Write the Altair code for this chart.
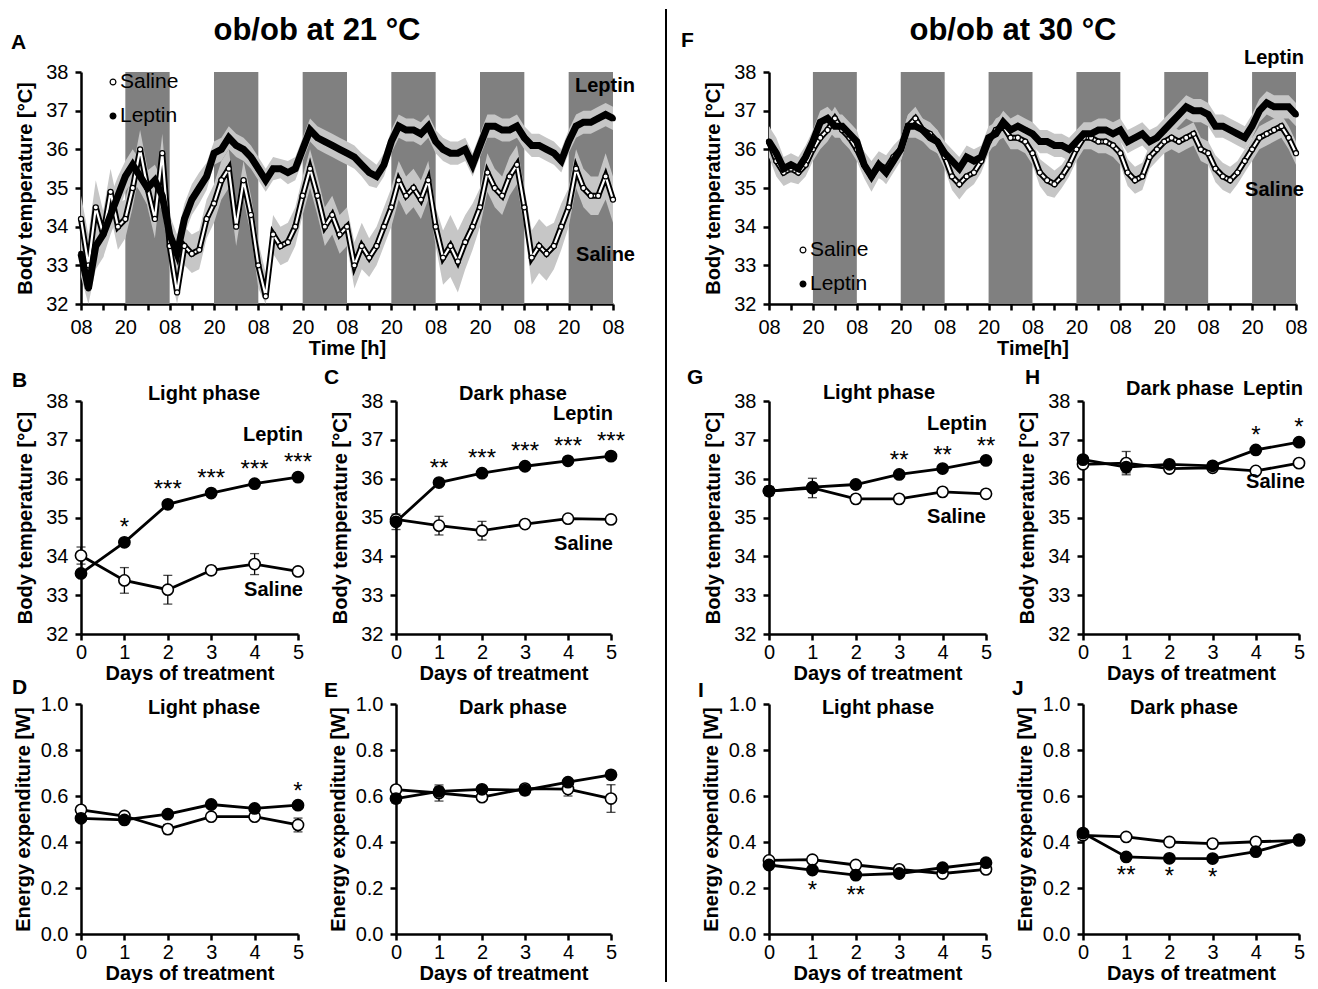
import altair as alt
import pandas as pd

FONT = "Liberation Sans"

# ---------------- time axis (panels A and F) ----------------
HOURS = list(range(0, 145, 2))
NIGHT_START = [12, 36, 60, 84, 108, 132]
NIGHT_END = [24, 48, 72, 96, 120, 144]
TIME_TICKS = list(range(0, 145, 6))

# Panel A (ob/ob at 21 C) - mean body temperature every 2 h
A_LEP = [33.3, 32.4, 33.5, 33.8, 34.3, 34.8, 35.3, 35.6, 35.3, 35.0, 35.2, 34.8,
         33.8, 33.3, 34.2, 34.7, 35.0, 35.3, 35.9, 36.0, 36.3, 36.1, 36.0, 35.8,
         35.5, 35.2, 35.5, 35.5, 35.4, 35.5, 36.0, 36.5, 36.3, 36.2, 36.1, 36.0,
         35.9, 35.8, 35.6, 35.4, 35.3, 35.6, 36.2, 36.6, 36.5, 36.5, 36.4, 36.6,
         36.2, 36.0, 35.9, 35.9, 36.0, 35.6, 36.1, 36.6, 36.6, 36.5, 36.5, 36.6,
         36.3, 36.1, 36.1, 36.0, 35.9, 35.7, 36.2, 36.6, 36.7, 36.7, 36.8, 36.9,
         36.8]
A_LEP_SEM = [0.6, 0.7, 0.6, 0.6, 0.5, 0.5, 0.4, 0.4, 0.4, 0.45, 0.4, 0.4,
             0.5, 0.5, 0.4, 0.4, 0.4, 0.35, 0.3, 0.3, 0.3, 0.3, 0.3, 0.3,
             0.3, 0.3, 0.3, 0.25, 0.3, 0.3, 0.3, 0.3, 0.3, 0.3, 0.3, 0.3,
             0.3, 0.3, 0.3, 0.35, 0.3, 0.3, 0.3, 0.3, 0.3, 0.3, 0.3, 0.3,
             0.3, 0.3, 0.3, 0.3, 0.3, 0.3, 0.3, 0.3, 0.3, 0.3, 0.3, 0.3,
             0.3, 0.3, 0.3, 0.3, 0.3, 0.3, 0.3, 0.3, 0.3, 0.3, 0.3, 0.3,
             0.3]
A_SAL = [34.2, 33.0, 34.5, 33.8, 34.9, 34.0, 34.2, 35.0, 36.0, 35.0, 34.2, 35.9,
         33.5, 32.3, 33.5, 33.3, 33.4, 34.2, 34.6, 35.2, 35.5, 34.0, 35.2, 34.3,
         33.0, 32.2, 33.8, 33.5, 33.6, 34.0, 34.8, 35.5, 34.8, 34.0, 34.3, 33.8,
         34.0, 33.0, 33.5, 33.2, 33.5, 34.0, 34.5, 35.2, 34.8, 35.0, 34.7, 35.2,
         34.0, 33.2, 33.5, 33.1, 33.6, 34.0, 34.5, 35.4, 35.0, 34.8, 35.3, 35.6,
         34.5, 33.2, 33.5, 33.3, 33.5, 34.0, 34.5, 35.5, 35.0, 34.8, 34.8, 35.3,
         34.7]
A_SAL_SEM = [0.6, 0.8, 0.7, 0.6, 0.6, 0.6, 0.5, 0.5, 0.5, 0.5, 0.5, 0.5,
             0.6, 0.6, 0.5, 0.5, 0.5, 0.5, 0.5, 0.5, 0.5, 0.5, 0.5, 0.5,
             0.6, 0.6, 0.5, 0.5, 0.5, 0.5, 0.5, 0.5, 0.5, 0.5, 0.5, 0.5,
             0.5, 0.6, 0.6, 0.5, 0.5, 0.5, 0.5, 0.5, 0.5, 0.5, 0.5, 0.5,
             0.5, 0.7, 0.8, 0.8, 0.7, 0.6, 0.5, 0.5, 0.5, 0.5, 0.5, 0.5,
             0.5, 0.7, 0.7, 0.7, 0.6, 0.6, 0.5, 0.5, 0.5, 0.5, 0.5, 0.6,
             0.6]

# Panel F (ob/ob at 30 C)
F_LEP = [36.2, 35.9, 35.5, 35.6, 35.5, 35.8, 36.2, 36.7, 36.8, 36.6, 36.6, 36.4,
         36.2, 35.6, 35.3, 35.6, 35.4, 35.7, 36.0, 36.6, 36.6, 36.5, 36.3, 36.2,
         35.9, 35.7, 35.5, 35.8, 35.7, 35.8, 36.3, 36.4, 36.7, 36.5, 36.6, 36.5,
         36.4, 36.2, 36.2, 36.1, 36.1, 36.0, 36.2, 36.4, 36.4, 36.5, 36.5, 36.4,
         36.5, 36.2, 36.3, 36.4, 36.2, 36.3, 36.5, 36.7, 36.9, 37.1, 37.0, 37.0,
         36.9, 36.6, 36.6, 36.5, 36.4, 36.3, 36.6, 37.0, 37.2, 37.1, 37.1, 37.1,
         36.9]
F_LEP_SEM = [0.4, 0.4, 0.3, 0.3, 0.3, 0.3, 0.3, 0.3, 0.3, 0.3, 0.3, 0.3,
             0.3, 0.3, 0.35, 0.3, 0.3, 0.3, 0.3, 0.3, 0.3, 0.3, 0.3, 0.3,
             0.3, 0.3, 0.3, 0.3, 0.3, 0.3, 0.3, 0.3, 0.3, 0.3, 0.3, 0.3,
             0.3, 0.3, 0.3, 0.3, 0.3, 0.3, 0.3, 0.3, 0.3, 0.3, 0.3, 0.3,
             0.3, 0.3, 0.3, 0.3, 0.3, 0.3, 0.3, 0.3, 0.3, 0.3, 0.3, 0.3,
             0.3, 0.3, 0.3, 0.3, 0.3, 0.3, 0.3, 0.3, 0.3, 0.3, 0.3, 0.3,
             0.3]
F_SAL = [36.2, 35.7, 35.4, 35.5, 35.4, 35.6, 36.0, 36.3, 36.5, 36.8, 36.5, 36.3,
         36.0, 35.6, 35.3, 35.6, 35.5, 35.8, 36.0, 36.6, 36.8, 36.5, 36.4, 36.2,
         35.8, 35.3, 35.1, 35.3, 35.4, 35.7, 36.2, 36.5, 36.6, 36.3, 36.3, 36.2,
         35.9, 35.4, 35.2, 35.1, 35.3, 35.6, 36.0, 36.3, 36.3, 36.2, 36.2, 36.1,
         35.9, 35.4, 35.2, 35.3, 35.8, 36.0, 36.2, 36.3, 36.2, 36.3, 36.4, 36.0,
         35.9, 35.5, 35.3, 35.2, 35.4, 35.7, 36.0, 36.3, 36.4, 36.5, 36.6, 36.3,
         35.9]
F_SAL_SEM = [0.4, 0.4, 0.35, 0.35, 0.3, 0.3, 0.3, 0.3, 0.3, 0.3, 0.3, 0.3,
             0.3, 0.35, 0.4, 0.35, 0.35, 0.3, 0.3, 0.3, 0.3, 0.3, 0.3, 0.3,
             0.3, 0.35, 0.4, 0.35, 0.3, 0.3, 0.3, 0.3, 0.3, 0.3, 0.3, 0.3,
             0.3, 0.35, 0.4, 0.35, 0.3, 0.3, 0.3, 0.3, 0.3, 0.3, 0.3, 0.3,
             0.3, 0.35, 0.35, 0.35, 0.3, 0.3, 0.3, 0.3, 0.3, 0.3, 0.3, 0.3,
             0.3, 0.35, 0.35, 0.35, 0.3, 0.3, 0.3, 0.3, 0.3, 0.3, 0.3, 0.3,
             0.3]

# ---------------- daily means (panels B-E, G-J) ----------------
DAYS = [0, 1, 2, 3, 4, 5]

B_LEP = [33.56, 34.36, 35.34, 35.63, 35.87, 36.04]
B_LEP_SEM = [0.08, 0.1, 0.06, 0.06, 0.05, 0.05]
B_SAL = [34.02, 33.38, 33.14, 33.64, 33.80, 33.61]
B_SAL_SEM = [0.22, 0.33, 0.37, 0.10, 0.27, 0.05]
B_STARS = ["", "*", "***", "***", "***", "***"]

C_LEP = [34.89, 35.90, 36.14, 36.32, 36.46, 36.58]
C_LEP_SEM = [0.2, 0.05, 0.05, 0.05, 0.05, 0.05]
C_SAL = [34.95, 34.79, 34.66, 34.83, 34.97, 34.95]
C_SAL_SEM = [0.1, 0.24, 0.24, 0.06, 0.05, 0.05]
C_STARS = ["", "**", "***", "***", "***", "***"]

D_LEP = [0.503, 0.496, 0.521, 0.563, 0.546, 0.560]
D_LEP_SEM = [0.01, 0.01, 0.01, 0.01, 0.01, 0.01]
D_SAL = [0.540, 0.513, 0.456, 0.510, 0.510, 0.474]
D_SAL_SEM = [0.01, 0.01, 0.02, 0.01, 0.015, 0.03]
D_STARS = ["", "", "", "", "", "*"]

E_LEP = [0.589, 0.620, 0.629, 0.625, 0.660, 0.692]
E_LEP_SEM = [0.02, 0.02, 0.01, 0.02, 0.01, 0.01]
E_SAL = [0.628, 0.613, 0.595, 0.632, 0.630, 0.589]
E_SAL_SEM = [0.01, 0.035, 0.01, 0.01, 0.03, 0.06]
E_STARS = ["", "", "", "", "", ""]

G_LEP = [35.68, 35.78, 35.85, 36.11, 36.26, 36.47]
G_LEP_SEM = [0.1, 0.1, 0.05, 0.05, 0.05, 0.05]
G_SAL = [35.68, 35.76, 35.48, 35.48, 35.66, 35.61]
G_SAL_SEM = [0.12, 0.25, 0.1, 0.05, 0.05, 0.05]
G_STARS = ["", "", "", "**", "**", "**"]

H_LEP = [36.49, 36.30, 36.37, 36.33, 36.74, 36.94]
H_LEP_SEM = [0.05, 0.15, 0.05, 0.1, 0.05, 0.05]
H_SAL = [36.37, 36.40, 36.26, 36.28, 36.20, 36.40]
H_SAL_SEM = [0.05, 0.3, 0.05, 0.05, 0.05, 0.05]
H_STARS = ["", "", "", "", "*", "*"]

I_LEP = [0.300, 0.278, 0.256, 0.263, 0.288, 0.310]
I_LEP_SEM = [0.01, 0.01, 0.01, 0.01, 0.01, 0.01]
I_SAL = [0.320, 0.323, 0.300, 0.281, 0.263, 0.281]
I_SAL_SEM = [0.01, 0.01, 0.01, 0.01, 0.01, 0.01]
I_STARS = ["", "*", "**", "", "", ""]

J_LEP = [0.439, 0.335, 0.329, 0.328, 0.358, 0.410]
J_LEP_SEM = [0.01, 0.01, 0.01, 0.01, 0.01, 0.01]
J_SAL = [0.429, 0.422, 0.400, 0.393, 0.401, 0.407]
J_SAL_SEM = [0.01, 0.01, 0.01, 0.01, 0.01, 0.01]
J_STARS = ["", "**", "*", "*", "", ""]

BT_TICKS = [32, 33, 34, 35, 36, 37, 38]
EE_TICKS = [0.0, 0.2, 0.4, 0.6, 0.8, 1.0]

ONE = pd.DataFrame({"z": [0]})


def annot(txt, x, y, size=20, bold=True, align="left"):
    return alt.Chart(ONE).mark_text(
        text=txt, align=align, baseline="middle", fontSize=size,
        fontWeight="bold" if bold else "normal", font=FONT, color="black"
    ).encode(x=alt.value(x), y=alt.value(y))


def legend_dot(x, y, filled):
    return alt.Chart(ONE).mark_circle(
        size=34, fill="black" if filled else "white", stroke="black",
        strokeWidth=1.2, opacity=1
    ).encode(x=alt.value(x), y=alt.value(y))


def long_df(xs, lep, lep_sem, sal, sal_sem, xname):
    df = pd.DataFrame({
        xname: list(xs) + list(xs),
        "v": list(sal) + list(lep),
        "sem": list(sal_sem) + list(lep_sem),
        "grp": ["Saline"] * len(sal) + ["Leptin"] * len(lep),
    })
    df["lo"] = df["v"] - df["sem"]
    df["hi"] = df["v"] + df["sem"]
    return df


def ts_panel(lep, lep_sem, sal, sal_sem, xtitle, extras, cell_w, plot_w, h):
    def X(f):
        return alt.X(f, type="quantitative",
                     scale=alt.Scale(domain=[0, 144], nice=False, zero=False, range=[0, plot_w]),
                     axis=alt.Axis(values=TIME_TICKS, title=xtitle,
                                   labelExpr="datum.value % 24 == 0 ? '08' : (datum.value % 12 == 0 ? '20' : '')",
                                   labelPadding=7, titlePadding=1))

    def Y(f):
        return alt.Y(f, type="quantitative",
                     scale=alt.Scale(domain=[32, 38], nice=False, zero=False, clamp=True),
                     axis=alt.Axis(values=BT_TICKS, format="d",
                                   title="Body temperature [°C]",
                                   labelPadding=7, titlePadding=10))

    df = long_df(HOURS, lep, lep_sem, sal, sal_sem, "t")
    sal_df = df[df["grp"] == "Saline"]
    lep_df = df[df["grp"] == "Leptin"]
    night = alt.Chart(pd.DataFrame({"s": NIGHT_START, "e": NIGHT_END})).mark_rect(
        color="#808080").encode(x=X("s"), x2="e", y=alt.value(0), y2=alt.value(h))
    band = alt.Chart(df).mark_area(color="#c6c6c6").encode(
        x=X("t"), y=Y("lo"), y2="hi", detail="grp:N")
    sal_out = alt.Chart(sal_df).mark_line(color="black", strokeWidth=6).encode(x=X("t"), y=Y("v"))
    sal_in = alt.Chart(sal_df).mark_line(color="white", strokeWidth=2.2).encode(x=X("t"), y=Y("v"))
    sal_pts = alt.Chart(sal_df).mark_circle(size=26, fill="white", stroke="black",
                                            strokeWidth=1.2, opacity=1).encode(x=X("t"), y=Y("v"))
    lep_line = alt.Chart(lep_df).mark_line(color="black", strokeWidth=7).encode(x=X("t"), y=Y("v"))
    lep_pts = alt.Chart(lep_df).mark_circle(size=34, color="black", opacity=1).encode(x=X("t"), y=Y("v"))
    layers = [night, band, sal_out, sal_in, sal_pts, lep_line, lep_pts] + extras
    return alt.layer(*layers).properties(width=cell_w, height=h)


def small_panel(lep, lep_sem, sal, sal_sem, stars, star_dy, kind, extras, w, h):
    if kind == "bt":
        dom, vals, fmt, ytitle, tpad = [32, 38], BT_TICKS, "d", "Body temperature [°C]", 10
    else:
        dom, vals, fmt, ytitle, tpad = [0, 1], EE_TICKS, ".1f", "Energy expenditure [W]", 7

    def X(f):
        return alt.X(f, type="quantitative",
                     scale=alt.Scale(domain=[0, 5], nice=False, zero=False),
                     axis=alt.Axis(values=DAYS, format="d", title="Days of treatment",
                                   labelPadding=2, titlePadding=1))

    def Y(f):
        return alt.Y(f, type="quantitative",
                     scale=alt.Scale(domain=dom, nice=False, zero=False),
                     axis=alt.Axis(values=vals, format=fmt, title=ytitle,
                                   labelPadding=7, titlePadding=tpad))

    df = long_df(DAYS, lep, lep_sem, sal, sal_sem, "day")
    sal_df = df[df["grp"] == "Saline"]
    lep_df = df[df["grp"] == "Leptin"]
    layers = []
    for d in (sal_df, lep_df):
        b = alt.Chart(d)
        layers.append(b.mark_rule(color="black", strokeWidth=1.3).encode(x=X("day"), y=Y("lo"), y2="hi"))
        layers.append(b.mark_tick(color="black", thickness=1.3, size=9, orient="horizontal").encode(x=X("day"), y=Y("lo")))
        layers.append(b.mark_tick(color="black", thickness=1.3, size=9, orient="horizontal").encode(x=X("day"), y=Y("hi")))
    for d in (sal_df, lep_df):
        layers.append(alt.Chart(d).mark_line(color="black", strokeWidth=2.8).encode(x=X("day"), y=Y("v")))
    layers.append(alt.Chart(sal_df).mark_circle(size=125, fill="white", stroke="black",
                                                strokeWidth=1.6, opacity=1).encode(x=X("day"), y=Y("v")))
    layers.append(alt.Chart(lep_df).mark_circle(size=125, fill="black", stroke="black",
                                                strokeWidth=1.6, opacity=1).encode(x=X("day"), y=Y("v")))
    sdf = pd.DataFrame({"day": DAYS, "v": lep, "s": stars})
    sdf = sdf[sdf["s"] != ""]
    if len(sdf):
        layers.append(alt.Chart(sdf).mark_text(fontSize=24, dy=star_dy, baseline="middle",
                                               font=FONT, color="black").encode(
            x=X("day"), y=Y("v"), text="s:N"))
    layers += extras
    return alt.layer(*layers).properties(width=w, height=h)


def spacer(w, h):
    return alt.Chart(ONE).mark_point(opacity=0).encode(
        x=alt.value(0), y=alt.value(0)).properties(width=w, height=h)


# ---------------- panels ----------------
anchor = alt.Chart(ONE).mark_rule(opacity=0).encode(
    x=alt.value(-73), y=alt.value(-63), x2=alt.value(-72), y2=alt.value(-62))

A = ts_panel(A_LEP, A_LEP_SEM, A_SAL, A_SAL_SEM, "Time [h]", [
    anchor,
    annot("ob/ob at 21 °C", 236, -41, size=31, align="center"),
    annot("A", -70, -29, size=21),
    legend_dot(32, 10, False), annot("Saline", 39, 10, size=21, bold=False),
    legend_dot(32, 44, True), annot("Leptin", 39, 44, size=21, bold=False),
    annot("Leptin", 554, 14, align="right"),
    annot("Saline", 554, 183, align="right"),
], 217, 532, 232)

F = ts_panel(F_LEP, F_LEP_SEM, F_SAL, F_SAL_SEM, "Time[h]", [
    annot("ob/ob at 30 °C", 244, -41, size=31, align="center"),
    annot("F", -88, -31, size=21),
    legend_dot(34, 178, False), annot("Saline", 41, 178, size=21, bold=False),
    legend_dot(34, 212, True), annot("Leptin", 41, 212, size=21, bold=False),
    annot("Leptin", 535, -14, align="right"),
    annot("Saline", 535, 118, align="right"),
], 217, 527, 232)

B = small_panel(B_LEP, B_LEP_SEM, B_SAL, B_SAL_SEM, B_STARS, -14, "bt", [
    annot("B", -69, -20, size=21), annot("Light phase", 123, -7, align="center"),
    annot("Leptin", 222, 34, align="right"), annot("Saline", 222, 189, align="right"),
], 217, 233)

C = small_panel(C_LEP, C_LEP_SEM, C_SAL, C_SAL_SEM, C_STARS, -14, "bt", [
    annot("C", -72, -23, size=21), annot("Dark phase", 117, -7, align="center"),
    annot("Leptin", 217, 13, align="right"), annot("Saline", 217, 143, align="right"),
], 215, 233)

G = small_panel(G_LEP, G_LEP_SEM, G_SAL, G_SAL_SEM, G_STARS, -13, "bt", [
    annot("G", -82, -23, size=21), annot("Light phase", 110, -8, align="center"),
    annot("Leptin", 218, 23, align="right"), annot("Saline", 217, 116, align="right"),
], 217, 233)

H = small_panel(H_LEP, H_LEP_SEM, H_SAL, H_SAL_SEM, H_STARS, -14, "bt", [
    annot("H", -58, -23, size=21), annot("Dark phase", 97, -12, align="center"),
    annot("Leptin", 160, -12), annot("Saline", 222, 81, align="right"),
], 216, 233)

D = small_panel(D_LEP, D_LEP_SEM, D_SAL, D_SAL_SEM, D_STARS, -13, "ee", [
    annot("D", -69, -16, size=21), annot("Light phase", 123, 4, align="center"),
], 217, 230)

E = small_panel(E_LEP, E_LEP_SEM, E_SAL, E_SAL_SEM, E_STARS, -13, "ee", [
    annot("E", -72, -13, size=21), annot("Dark phase", 117, 4, align="center"),
], 215, 230)

I = small_panel(I_LEP, I_LEP_SEM, I_SAL, I_SAL_SEM, I_STARS, 21, "ee", [
    annot("I", -71, -13, size=21), annot("Light phase", 109, 4, align="center"),
], 217, 230)

J = small_panel(J_LEP, J_LEP_SEM, J_SAL, J_SAL_SEM, J_STARS, 19, "ee", [
    annot("J", -71, -15, size=21), annot("Dark phase", 101, 4, align="center"),
], 216, 230)

divider = alt.Chart(ONE).mark_rule(color="black", strokeWidth=2).encode(
    x=alt.value(55), y=alt.value(-63), y2=alt.value(910)).properties(width=158, height=232)

# grid: 7 columns = [col0 217 | gap 98 | col2 215 | gap 158 | col4 217 | gap 97 | col6 216]
cells = [
    A, spacer(98, 232), spacer(215, 232), divider, F, spacer(97, 232), spacer(216, 232),
    spacer(1, 97), spacer(1, 97), spacer(1, 97), spacer(1, 97), spacer(1, 97), spacer(1, 97), spacer(1, 97),
    B, spacer(98, 233), C, spacer(158, 233), G, spacer(97, 233), H,
    spacer(1, 70), spacer(1, 70), spacer(1, 70), spacer(1, 70), spacer(1, 70), spacer(1, 70), spacer(1, 70),
    D, spacer(98, 230), E, spacer(158, 230), I, spacer(97, 230), J,
]

chart = alt.concat(*cells, columns=7, spacing=0, bounds="flush", align="each").properties(
    padding=0
).configure(font=FONT).configure_view(strokeWidth=0).configure_axis(
    domainColor="black", domainWidth=2.5, tickColor="black", tickWidth=2.5, tickSize=6,
    labelFont=FONT, labelFontSize=20, labelColor="black", labelFlush=False, labelOverlap=False,
    titleFont=FONT, titleFontSize=20, titleFontWeight="bold", titleColor="black", grid=False,
)

chart.save("out.html", embed_options={"renderer": "svg", "actions": False})
